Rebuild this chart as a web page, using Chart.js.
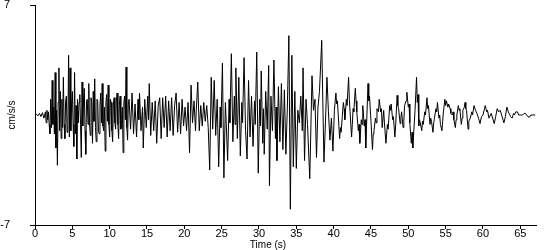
<!DOCTYPE html>
<html><head><meta charset="utf-8">
<script src="https://cdn.jsdelivr.net/npm/chart.js@4"></script>
<style>html,body{margin:0;padding:0;background:#fff;}#wrap{width:550px;height:250px;}</style>
</head><body><div id="wrap"><canvas id="c" width="550" height="250"></canvas></div>
<script>
// Time (s) of each read sample
const times = [
0,0.2,0.4,0.6,0.8,1.0,1.2,1.4,1.5,1.6,1.7,1.8,1.9,2.0,2.1,2.2,2.3,2.4,2.5,2.6,2.7,2.8,2.9,3.0,3.1,3.2,3.3,3.4,3.5,
3.6,3.7,3.8,3.9,4.0,4.1,4.2,4.3,4.4,4.5,4.6,4.7,4.8,4.9,5.0,5.1,5.2,5.3,5.4,5.5,5.6,5.7,5.8,5.9,6.0,6.1,6.2,6.3,6.4,6.5,6.6,6.7,6.8,6.9,7.0,7.1,7.2,7.3,7.4,7.5,7.6,7.7,7.8,7.9,8.0,8.1,8.2,8.3,8.4,8.5,8.6,8.7,8.8,8.9,9.0,9.1,9.2,9.3,9.4,9.5,9.6,9.7,9.8,9.9,10.0,10.1,10.2,10.3,10.4,10.5,10.6,10.7,10.8,10.9,11.0,11.1,11.2,11.3,11.4,11.5,11.6,11.7,11.8,11.9,12.0,12.1,12.2,12.3,12.4,12.5,12.6,
12.8,13.0,13.2,13.4,13.6,13.8,13.9,14.0,14.2,14.4,14.5,14.7,14.9,15.1,15.2,15.3,15.5,15.7,15.9,16.1,16.3,16.5,16.7,16.9,17.1,17.3,17.5,17.7,17.9,18.1,18.3,18.5,18.7,18.9,19.1,19.3,19.5,19.7,19.9,20.1,20.3,20.5,20.7,20.9,21.1,21.3,21.5,21.6,21.8,22.0,22.2,22.4,22.6,22.8,23.0,23.2,
23.4,23.6,23.8,24.0,24.2,24.4,24.6,24.8,24.9,25.1,25.3,25.5,25.6,25.8,26.0,26.1,26.3,26.5,26.7,26.8,26.9,27.1,27.3,27.5,27.7,27.8,28.0,28.2,28.4,28.6,28.8,29.0,29.2,29.4,29.5,29.7,29.9,30.1,30.2,30.3,30.5,30.6,30.7,30.9,31.1,31.3,31.4,31.6,31.8,32.0,32.2,32.3,32.4,32.6,32.8,33.0,33.2,33.4,33.6,33.8,34.0,34.2,34.4,34.6,34.8,
35.0,35.2,35.4,35.6,35.8,35.9,36.1,36.3,36.5,36.8,37.1,37.3,37.5,37.7,37.9,38.1,38.4,38.7,38.9,39.1,39.3,39.5,39.7,39.9,
40.1,40.3,40.4,40.5,40.8,40.9,41.0,41.2,41.3,41.4,41.5,41.7,41.8,42.0,42.1,42.2,42.4,42.5,42.6,42.7,42.9,43.0,43.1,43.3,43.4,43.5,43.7,43.8,43.9,44.1,44.2,44.3,44.6,44.7,44.8,45.0,45.2,45.3,45.4,45.6,45.7,45.8,46.0,46.1,46.3,46.4,46.5,46.7,46.8,47.0,47.2,47.3,47.5,47.6,47.7,47.9,48.0,48.2,48.3,48.5,48.6,48.7,48.9,49.0,49.1,49.3,49.4,49.5,49.7,49.8,50.0,50.1,50.2,50.4,50.5,50.6,50.9,
51.1,51.2,51.3,51.4,51.5,51.6,51.8,51.9,52.0,52.2,52.3,52.5,52.6,52.7,52.9,53.0,53.1,53.3,53.4,53.5,53.7,53.8,53.9,54.1,54.2,54.3,54.5,54.6,54.7,54.9,55.0,55.1,55.3,55.4,55.6,55.7,55.9,56.0,56.1,56.3,56.4,56.5,56.7,56.8,56.9,57.1,57.2,57.3,57.5,57.6,57.7,57.8,58.0,58.1,58.3,58.5,58.6,58.8,59.0,59.2,59.4,59.6,59.8,60.0,60.2,60.3,60.5,60.6,60.8,61.0,61.1,61.3,61.5,61.7,61.9,62.1,62.3,62.5,62.8,63.0,63.2,63.4,63.5,63.7,63.9,64.1,64.2,64.4,64.6,64.8,65.0,65.3,65.5,65.7,66.0,66.2,66.4,66.6,67.0
];
// Acceleration (cm/s/s) at each time
const accel = [
0,0.05,-0.05,0.1,-0.1,0.15,-0.2,0.2,-0.5,0.3,-0.3,0.2,-0.6,-1.2,1.0,-0.8,2.2,-0.6,0.5,-1.2,2.7,-2.1,0.3,-3.2,0.8,3.0,-1.0,1.5,-1.5,
1.0,-0.8,2.4,-0.6,-1.5,0.9,1.2,-1.1,-0.9,3.8,-1.4,3.0,-1.0,0.7,1.5,-0.6,-2.0,2.7,-1.2,0.6,-2.8,1.0,-0.5,0.8,1.3,-0.6,-2.7,2.1,-0.7,1.0,1.7,-1.0,-2.5,0.9,1.0,-0.6,2.0,-0.5,-1.3,1.1,0.8,-1.8,1.5,-0.4,2.3,-0.8,-1.7,1.0,0.9,-1.0,-1.2,0.6,1.4,-0.5,2.0,-0.7,-1.0,0.5,-2.3,0.8,1.3,-0.4,1.9,-0.6,-1.4,1.0,0.8,-1.0,-1.7,0.7,1.1,-0.5,-0.9,0.9,1.4,-0.6,-1.5,0.6,1.2,-0.9,-0.6,0.5,-2.4,0.8,1.2,-0.3,3.05,-0.8,-1.6,0.7,1.0,
-0.9,1.4,-1.2,0.7,-1.4,1.0,-0.3,1.4,-1.0,0.5,-2.1,1.0,-0.8,1.2,-0.3,2.0,-1.3,0.8,-1.0,0.9,-1.8,0.6,1.1,-1.5,1.1,-0.8,1.2,-1.4,0.9,-1.0,1.1,-1.3,0.6,1.4,-1.1,0.8,-1.2,1.0,-0.7,0.5,-1.0,0.8,-2.4,1.9,-0.5,0.9,-1.0,0.3,2.1,-1.0,0.6,-0.7,0.8,-0.4,0.6,-0.8,
-3.5,2.4,-0.9,2.2,-1.3,1.0,-3.3,0.5,-0.8,3.3,-4.0,0.8,-0.4,-2.9,1.0,-0.5,3.9,-1.7,1.2,-0.6,3.0,-1.5,2.4,-2.6,0.8,-0.5,3.65,-1.0,-2.8,2.2,-1.4,1.2,-2.0,0.9,-0.6,4.0,-3.7,1.0,-0.7,2.8,-1.8,0.4,-2.5,1.5,-0.9,3.15,-4.5,1.2,-1.0,3.5,-1.5,0.5,-2.9,1.8,-1.7,2.0,-2.2,1.6,-2.5,0.5,5.05,-6.0,3.8,-3.3,1.5,
-3.4,0.3,-0.5,1.2,-1.0,3.0,-2.9,1.0,-0.6,-4.05,2.5,0.3,1.0,-2.7,0.5,1.5,4.75,-3.0,-0.5,2.4,0.2,-1.6,-0.2,-2.3,
0.3,1.4,0.7,0.9,-1.5,-0.8,-1.1,0.2,0.8,0.4,-0.3,1.0,0.6,2.4,1.0,0.2,-1.4,-0.6,0.4,0.2,1.7,0.9,0.2,-1.0,-0.6,-1.8,-0.3,-0.6,0.6,-0.7,-0.3,-2.1,2.0,0.9,1.2,-0.4,-2.2,-1.2,-1.0,-0.2,-0.5,0.4,0.2,1.0,0.2,0.4,-0.8,0.3,-0.5,-1.8,-0.6,-0.9,0.6,0.3,0.7,-0.3,-0.1,-1.4,-0.7,1.25,0.6,0.4,-0.55,-0.2,0.2,-0.8,-0.4,0.6,0.9,1.45,0.5,0.7,-0.5,-1.8,-1.1,-2.1,0.3,
2.4,0.8,1.3,-0.7,-0.3,-0.5,-1.0,-0.4,-0.6,0.2,0.0,1.1,0.4,0.6,-0.6,-0.2,-0.4,-1.1,-0.5,-0.2,0.4,0.2,0.8,-0.2,0.0,-0.6,-1.0,-0.4,0.2,1.0,0.6,0.9,0.5,0.7,0.4,0.1,0.0,0.2,-0.3,-0.8,-0.3,0.0,0.6,0.3,0.4,-0.6,-0.2,0.3,0.5,0.8,0.4,0.3,-0.9,-0.4,-0.2,0.2,0.0,0.6,0.3,0.1,-0.2,-0.55,-0.1,0.0,0.4,0.6,0.2,0.3,-0.2,0.0,0.1,-0.2,-0.55,-0.1,0.4,0.2,0.3,0.0,-0.5,-0.1,0.5,0.2,0.1,-0.1,-0.2,0.1,0.0,0.2,0.2,0.0,0.0,0.0,0.1,0.1,-0.1,-0.15,0.0,0.0,0.0
];
const xTickValues = [0,5,10,15,20,25,30,35,40,45,50,55,60,65];
const yTickValues = [-7,7];
const xMin = 0, xMax = 67.1, yMin = -7, yMax = 7;
const xTitle = 'Time (s)';
const yTitle = 'cm/s/s';

const FONT = 'Liberation Sans, Arial, sans-serif';
const points = times.map((t, i) => ({x: t, y: accel[i]}));

// x-axis title, drawn slightly left of the plot centre as in the reference
const xTitlePlugin = {
  id: 'xTitle',
  afterDraw(chart) {
    const c = chart.ctx;
    c.save();
    c.font = '10px ' + FONT;
    c.fillStyle = '#000';
    c.textAlign = 'center';
    c.textBaseline = 'middle';
    c.fillText(xTitle, 268, 245);
    c.restore();
  }
};

new Chart(document.getElementById('c').getContext('2d'), {
  type: 'line',
  data: { datasets: [{ data: points, borderColor: '#000', borderWidth: 1, pointRadius: 0, tension: 0, fill: false }] },
  options: {
    responsive: false, animation: false, devicePixelRatio: 1,
    plugins: { legend: { display: false }, tooltip: { enabled: false } },
    layout: { padding: { left: 0, right: 14, top: 5, bottom: 0 } },
    scales: {
      x: {
        type: 'linear', min: xMin, max: xMax,
        afterBuildTicks: s => { s.ticks = xTickValues.map(v => ({ value: v })); },
        afterFit: s => { s.height = 25; s.paddingLeft = 0; s.paddingRight = 0; },
        ticks: { autoSkip: false, maxRotation: 0, color: '#000', padding: -2, font: { family: FONT, size: 11 } },
        grid: { drawOnChartArea: false, drawTicks: true, tickLength: 4, color: '#000' },
        border: { color: '#000', width: 1 },
        title: { display: false }
      },
      y: {
        type: 'linear', min: yMin, max: yMax,
        afterBuildTicks: s => { s.ticks = yTickValues.map(v => ({ value: v })); },
        afterFit: s => { s.width = 35; s.paddingTop = 0; s.paddingBottom = 0; },
        ticks: { color: '#000', padding: 20, font: { family: FONT, size: 11 } },
        grid: { drawOnChartArea: false, drawTicks: true, tickLength: 5, color: '#000' },
        border: { color: '#000', width: 1 },
        title: { display: true, text: yTitle, color: '#000', padding: { top: 6, bottom: 0 }, font: { family: FONT, size: 10, lineHeight: 1.2 } }
      }
    }
  },
  plugins: [xTitlePlugin]
});
</script>
</body></html>
